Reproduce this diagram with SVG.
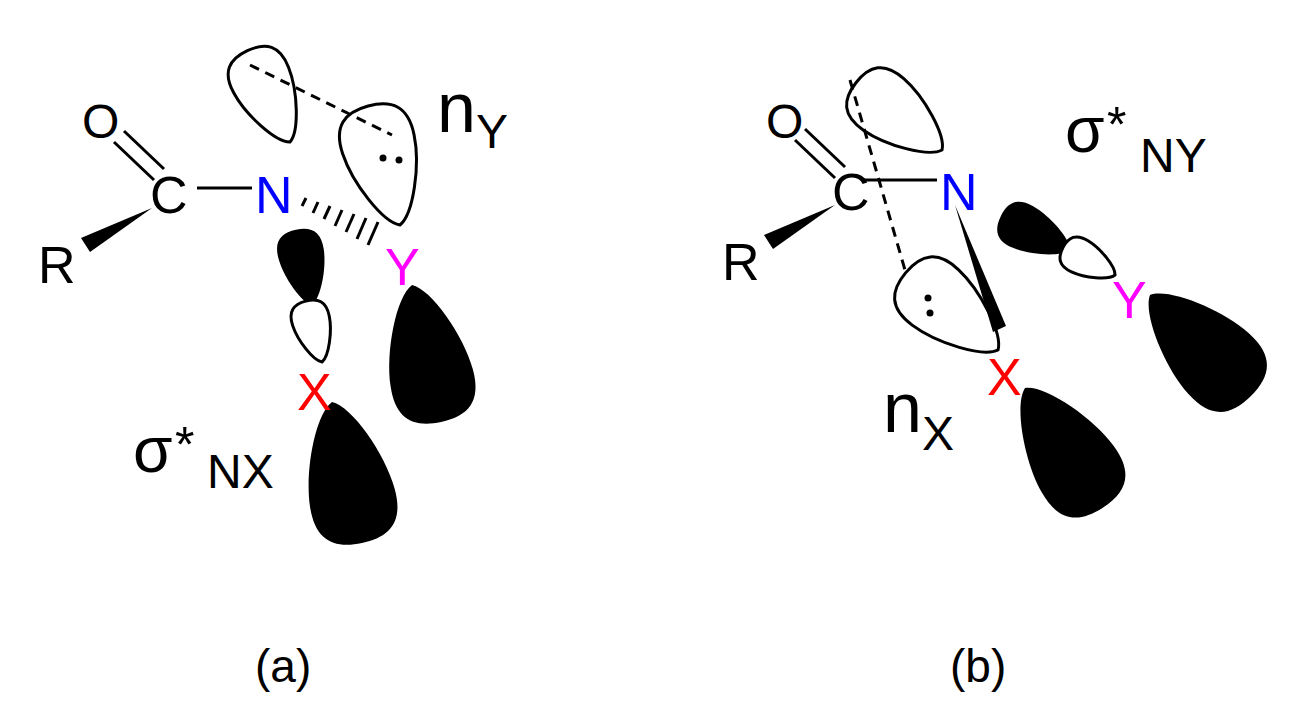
<svg xmlns="http://www.w3.org/2000/svg" width="1305" height="722" viewBox="0 0 1305 722">
<style>
text{font-family:"Liberation Sans",Arial,sans-serif;fill:#000}
.b{stroke:#000;stroke-width:3;fill:none}
.o{fill:#fff;stroke:#000;stroke-width:3}
.f{fill:#000}
.d{stroke:#000;stroke-width:3;stroke-dasharray:10 7;fill:none}
</style>
<defs>
<path id="lobe" d="M0,0 C18,8 40,60 42,95 C44,128 28,140 0,140 C-28,140 -44,128 -42,95 C-40,60 -18,8 0,0 Z" vector-effect="non-scaling-stroke"/>
</defs>
<rect width="1305" height="722" fill="#fff"/>
<g id="a">
<use href="#lobe" class="o" transform="translate(290,142) rotate(155) scale(0.72)"/>
<use href="#lobe" class="o" transform="translate(400,225) rotate(165) scale(0.88)"/>
<line x1="250" y1="65" x2="392" y2="135" class="d"/>
<circle cx="383" cy="158" r="3.5" class="f"/><circle cx="399" cy="160" r="3.5" class="f"/>
<use href="#lobe" class="f" transform="translate(312,305) rotate(168) scale(0.55)"/>
<use href="#lobe" class="o" transform="translate(322,362) rotate(165) scale(0.45)"/>
<use href="#lobe" class="f" transform="translate(412,285) rotate(-12) scale(1.0)"/>
<use href="#lobe" class="f" transform="translate(332,402) rotate(-12) scale(1.03)"/>
<line x1="114" y1="142" x2="154" y2="180" class="b"/>
<line x1="124" y1="131" x2="164" y2="169" class="b"/>
<line x1="197" y1="188" x2="252" y2="188" class="b"/>
<polygon points="152,208 81,238 90,252" class="f"/>
<g stroke="#000" stroke-width="3">
<line x1="302" y1="206" x2="306" y2="198"/><line x1="313" y1="213" x2="318" y2="202"/><line x1="324" y1="219" x2="330" y2="206"/><line x1="335" y1="226" x2="342" y2="210"/><line x1="346" y1="232" x2="354" y2="214"/><line x1="357" y1="239" x2="366" y2="218"/><line x1="368" y1="245" x2="378" y2="222"/>
</g>
<text x="82" y="138" font-size="48">O</text>
<text x="150" y="213" font-size="52">C</text>
<text x="255" y="213" font-size="52" style="fill:#0000ff">N</text>
<text x="38" y="283" font-size="52">R</text>
<text x="385" y="285" font-size="52" style="fill:#ff00ff">Y</text>
<text x="297" y="410" font-size="52" style="fill:#ff0000">X</text>
<text x="437" y="132" font-size="70">n</text>
<text x="476" y="148" font-size="48">Y</text>
<text x="133" y="472" font-size="64">σ</text>
<text x="175" y="462" font-size="50">*</text>
<text x="207" y="488" font-size="48">NX</text>
<text x="255" y="682" font-size="46">(a)</text>
</g>
<g id="b">
<use href="#lobe" class="o" transform="translate(942,150) rotate(128) scale(0.78)"/>
<use href="#lobe" class="o" transform="translate(998,350) rotate(130) scale(0.86)"/>
<line x1="850" y1="80" x2="905" y2="270" class="d"/>
<circle cx="928" cy="298" r="3.5" class="f"/><circle cx="930" cy="313" r="3.5" class="f"/>
<line x1="862" y1="180" x2="937" y2="180" class="b"/>
<polygon points="955,205 993,332 1006,326" class="f"/>
<line x1="795" y1="140" x2="835" y2="178" class="b"/>
<line x1="805" y1="129" x2="845" y2="167" class="b"/>
<polygon points="835,205 764,235 773,249" class="f"/>
<use href="#lobe" class="f" transform="translate(1070,250) rotate(116) scale(0.55)"/>
<use href="#lobe" class="o" transform="translate(1115,275) rotate(118) scale(0.42)"/>
<use href="#lobe" class="f" transform="translate(1150,295) rotate(-45) scale(1.02)"/>
<use href="#lobe" class="f" transform="translate(1025,388) rotate(-33) scale(1.02)"/>
<text x="766" y="138" font-size="48">O</text>
<text x="832" y="210" font-size="52">C</text>
<text x="940" y="210" font-size="52" style="fill:#0000ff">N</text>
<text x="722" y="280" font-size="52">R</text>
<text x="1112" y="318" font-size="52" style="fill:#ff00ff">Y</text>
<text x="987" y="395" font-size="52" style="fill:#ff0000">X</text>
<text x="883" y="432" font-size="70">n</text>
<text x="922" y="450" font-size="48">X</text>
<text x="1065" y="152" font-size="64">σ</text>
<text x="1107" y="142" font-size="50">*</text>
<text x="1140" y="172" font-size="48">NY</text>
<text x="950" y="682" font-size="46">(b)</text>
</g>
</svg>
